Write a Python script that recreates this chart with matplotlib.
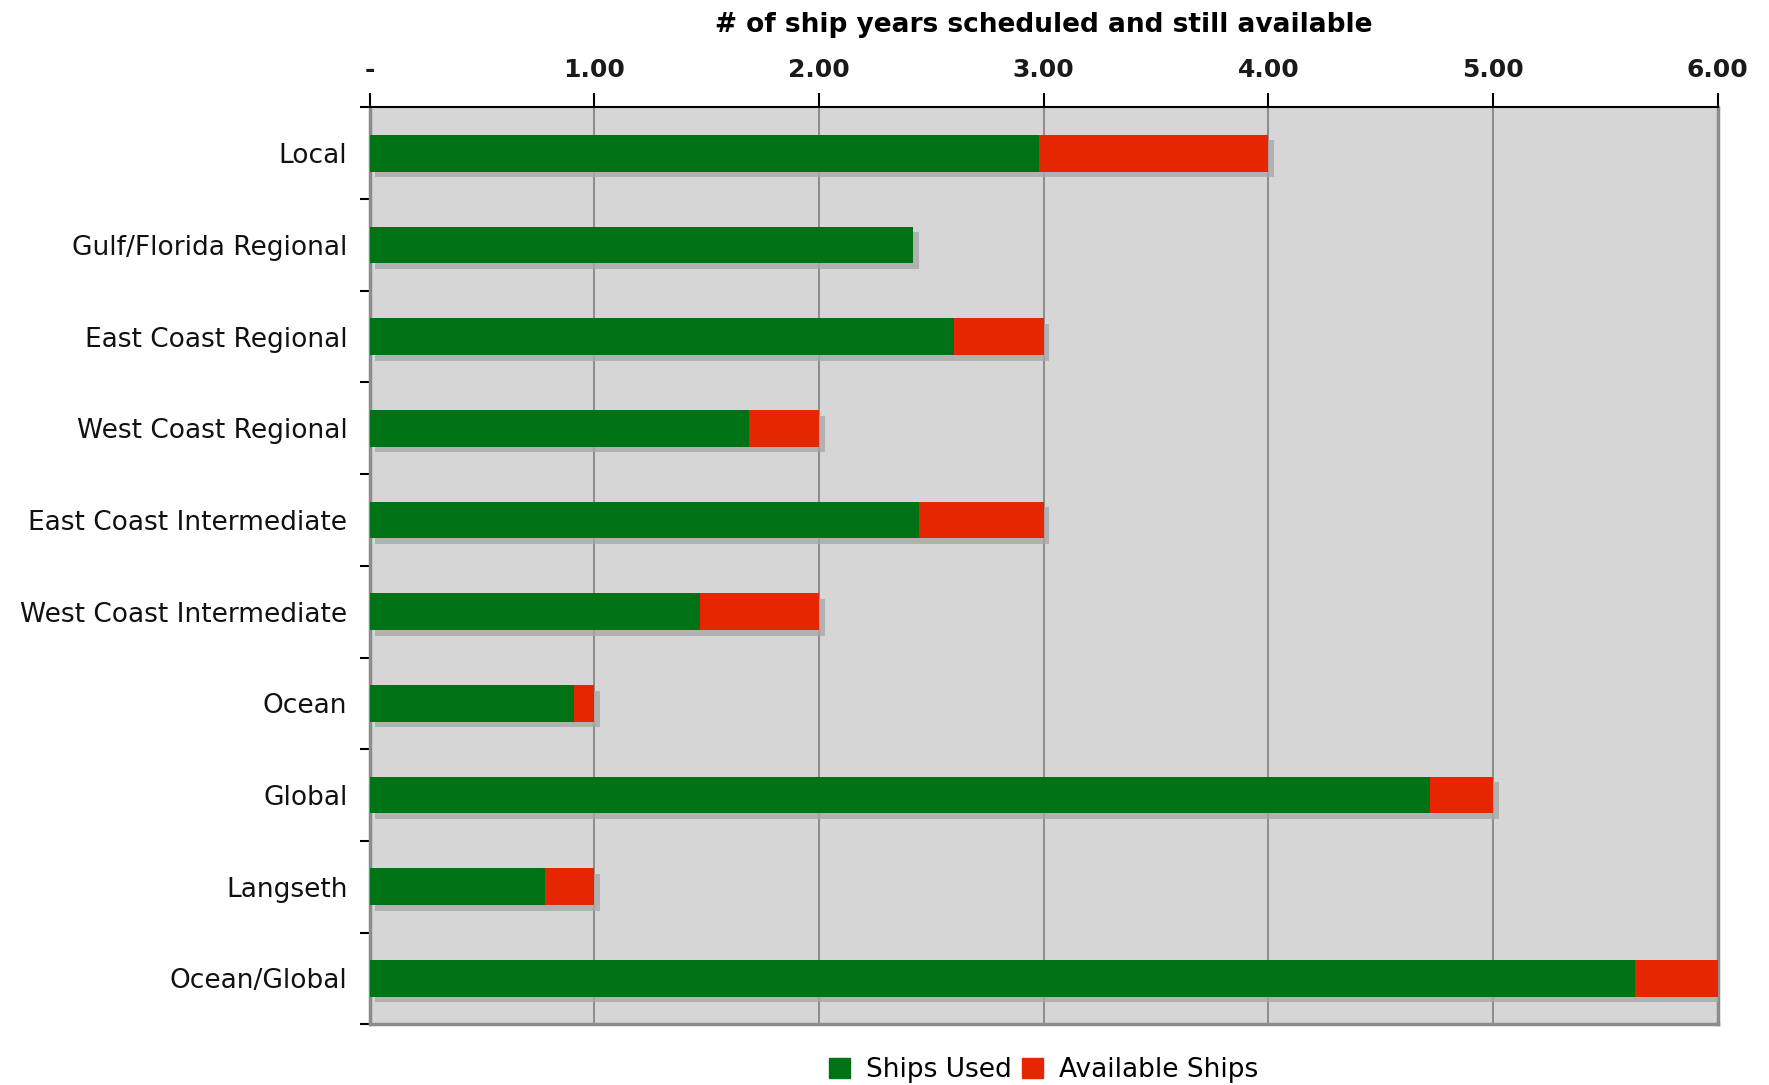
import matplotlib
matplotlib.use("Agg")
import matplotlib.pyplot as plt
import matplotlib.patheffects as pe
from matplotlib.patches import Patch
import numpy as np

# --- Data ---
categories = ["Local", "Gulf/Florida Regional", "East Coast Regional", "West Coast Regional",
              "East Coast Intermediate", "West Coast Intermediate", "Ocean", "Global",
              "Langseth", "Ocean/Global"]
ships_used = [2.98, 2.42, 2.60, 1.69, 2.445, 1.47, 0.91, 4.72, 0.78, 5.63]
available = [1.02, 0.00, 0.40, 0.31, 0.555, 0.53, 0.09, 0.28, 0.22, 0.37]
x_ticks = [0, 1, 2, 3, 4, 5, 6]
x_tick_labels = ["-", "1.00", "2.00", "3.00", "4.00", "5.00", "6.00"]

GREEN = "#007216"
RED = "#e62600"
BG = "#d6d6d6"

fig = plt.figure(figsize=(17.69, 10.85), dpi=100)
ax = fig.add_axes([0.209, 0.056, 0.762, 0.845])
ax.set_facecolor(BG)

y = np.arange(len(categories))
shadow = [pe.SimplePatchShadow(offset=(4, -4), shadow_rgbFace="#a8a8a8", alpha=0.8), pe.Normal()]

# grid first so bars sit on top
for xv in x_ticks[1:-1]:
    ax.axvline(xv, color="#7f7f7f", lw=1.2, zorder=1)

b1 = ax.barh(y, ships_used, height=0.4, color=GREEN, zorder=3)
b2 = ax.barh(y, available, left=ships_used, height=0.4, color=RED, zorder=3)
for bars in (b1, b2):
    for p in bars:
        if p.get_width() > 0:
            p.set_path_effects(shadow)

ax.set_xlim(0, 6)
ax.set_ylim(len(categories) - 0.5, -0.5)

# x axis on top
ax.xaxis.tick_top()
ax.xaxis.set_label_position("top")
ax.set_xticks(x_ticks)
ax.set_xticklabels(x_tick_labels, fontsize=18, fontweight="bold", color="#1a1a1a")
ax.tick_params(axis="x", direction="out", length=10, width=1.5, color="black", pad=8)
ax.set_xlabel("# of ship years scheduled and still available", fontsize=19,
              fontweight="heavy", labelpad=19)

# y labels at centers, ticks at boundaries
ax.set_yticks(y)
ax.set_yticklabels(categories, fontsize=19, color="#111111")
ax.tick_params(axis="y", length=0, pad=16)
ax.set_yticks(np.arange(-0.5, len(categories) + 0.5, 1), minor=True)
ax.tick_params(axis="y", which="minor", direction="out", length=7, width=1.5, color="black")

for side in ("left", "bottom", "right"):
    ax.spines[side].set_color("#8c8c8c")
    ax.spines[side].set_linewidth(2.5)
ax.spines["top"].set_color("black")
ax.spines["top"].set_linewidth(1.5)

handles = [Patch(color=GREEN, label="Ships Used"), Patch(color=RED, label="Available Ships")]
fig.legend(handles=handles, loc="lower center", bbox_to_anchor=(0.59, -0.02), ncol=2,
           frameon=False, fontsize=19, handlelength=0.8, handleheight=0.8,
           handletextpad=0.6, columnspacing=0.4)

fig.savefig("out.png", dpi=100)
